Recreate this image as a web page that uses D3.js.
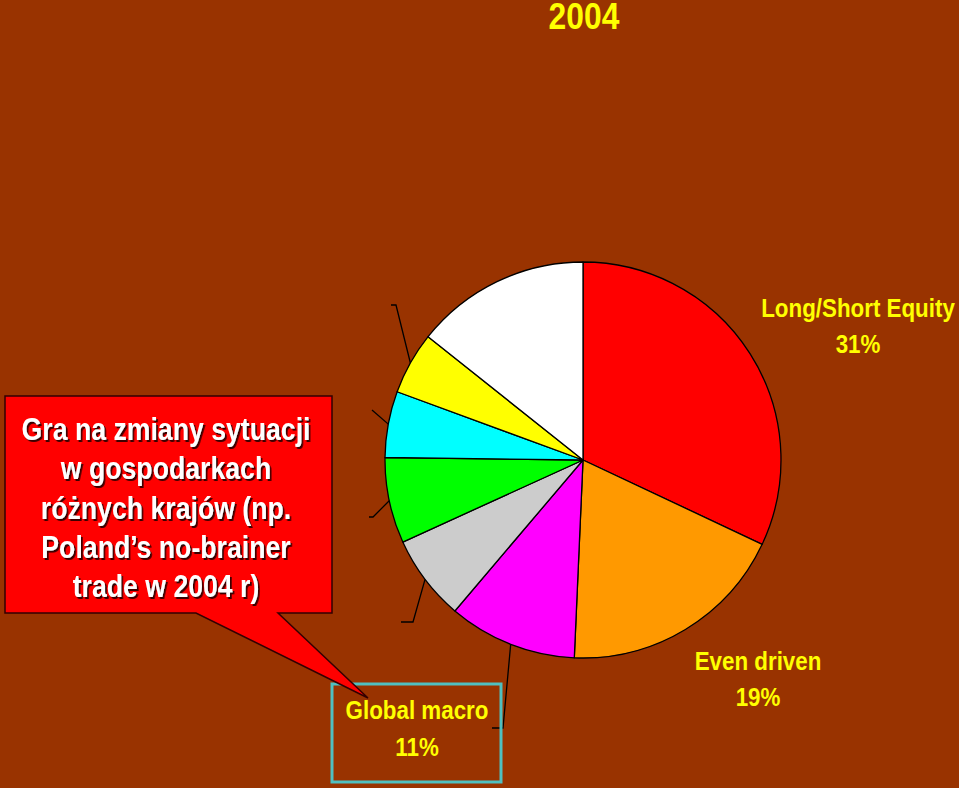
<!DOCTYPE html>
<html>
<head>
<meta charset="utf-8">
<script src="https://cdn.jsdelivr.net/npm/d3@7"></script>
<style>
  html, body { margin: 0; padding: 0; background: #993300; }
  svg { display: block; }
  text { font-family: "Liberation Sans", Arial, sans-serif; font-weight: bold; }
</style>
</head>
<body>
<svg id="chart" width="959" height="788"></svg>
<script>
// Data
const categories = ["Long/Short Equity", "Even driven", "Global macro", "Other A", "Other B", "Other C", "Other D", "Other E"];
const values = [32, 18.7, 10.5, 7, 7, 5.4, 5.1, 14.3];
const colors = ["#ff0000", "#ff9900", "#ff00ff", "#cccccc", "#00ff00", "#00ffff", "#ffff00", "#ffffff"];
const labelTexts = ["31%", "19%", "11%"];
const title = "2004";
const calloutLines = ["Gra na zmiany sytuacji", "w gospodarkach", "różnych krajów (np.", "Poland’s no-brainer", "trade w 2004 r)"];

const svg = d3.select("#chart");
const W = 959, H = 788;
const NARROW = 0.86;

const defs = svg.append("defs");
const f = defs.append("filter").attr("id", "shadow").attr("x", "-10%").attr("y", "-20%").attr("width", "130%").attr("height", "160%");
f.append("feDropShadow").attr("dx", 2).attr("dy", 2).attr("stdDeviation", 0.6).attr("flood-color", "#3a0000").attr("flood-opacity", 1);

svg.append("rect").attr("width", W).attr("height", H).attr("fill", "#993300");

function ntext(parent, x, y, str, size, fill, filter) {
  const gg = parent.append("g").attr("transform", `translate(${x},${y}) scale(${NARROW},1)`);
  const t = gg.append("text").attr("x", 0).attr("y", 0).attr("text-anchor", "middle")
    .attr("fill", fill).attr("font-size", size).text(str);
  if (filter) t.attr("filter", filter);
  return t;
}

const cx = 583, cy = 460, R = 198;

ntext(svg, 584, 29, title, 37, "#ffff00");

const pie = d3.pie().sort(null).value(d => d);
const arcs = pie(values);
const arc = d3.arc().innerRadius(0).outerRadius(R);
const g = svg.append("g").attr("transform", `translate(${cx},${cy})`);
g.selectAll("path").data(arcs).join("path")
  .attr("d", arc).attr("fill", (d, i) => colors[i])
  .attr("stroke", "#000").attr("stroke-width", 1.3).attr("stroke-linejoin", "round");

function polar(a, r) { return [Math.sin(a) * r, -Math.cos(a) * r]; }
function mid(d) { return (d.startAngle + d.endAngle) / 2; }
// leader lines: start at slice mid-angle on the rim
const leaderEnds = {
  6: [[396, 305], [391, 305]],
  5: [[372, 410]],
  4: [[373, 517], [369, 517]],
  3: [[413, 622], [401, 622]],
  2: [[503, 728], [492, 728]]
};
Object.keys(leaderEnds).forEach(k => {
  const d = arcs[+k];
  const pts = [polar(mid(d), R)].concat(leaderEnds[k].map(p => [p[0] - cx, p[1] - cy]));
  g.append("path").attr("d", d3.line()(pts)).attr("fill", "none").attr("stroke", "#000").attr("stroke-width", 1.3);
});

// Labels
const yel = "#ffff00";
ntext(svg, 858, 317, categories[0], 26, yel);
ntext(svg, 858, 353, labelTexts[0], 26, yel);
ntext(svg, 758, 670, categories[1], 26, yel);
ntext(svg, 758, 706, labelTexts[1], 26, yel);

// Global macro box
svg.append("rect").attr("x", 332).attr("y", 684).attr("width", 169).attr("height", 98)
  .attr("fill", "none").attr("stroke", "#4fc0c0").attr("stroke-width", 3);
ntext(svg, 417, 719, categories[2], 26, yel);
ntext(svg, 417, 756, labelTexts[2], 26, yel);

// Callout
const callout = d3.path();
callout.moveTo(5, 396); callout.lineTo(332, 396); callout.lineTo(332, 613);
callout.lineTo(278, 613); callout.lineTo(368, 698); callout.lineTo(196, 613);
callout.lineTo(5, 613); callout.closePath();
svg.append("path").attr("d", callout.toString()).attr("fill", "#ff0000")
  .attr("stroke", "#330000").attr("stroke-width", 1.5).attr("stroke-linejoin", "miter");
calloutLines.forEach((l, j) => {
  ntext(svg, 166, 440 + j * 39.25, l, 31, "#ffffff", "url(#shadow)");
});
</script>
</body>
</html>
